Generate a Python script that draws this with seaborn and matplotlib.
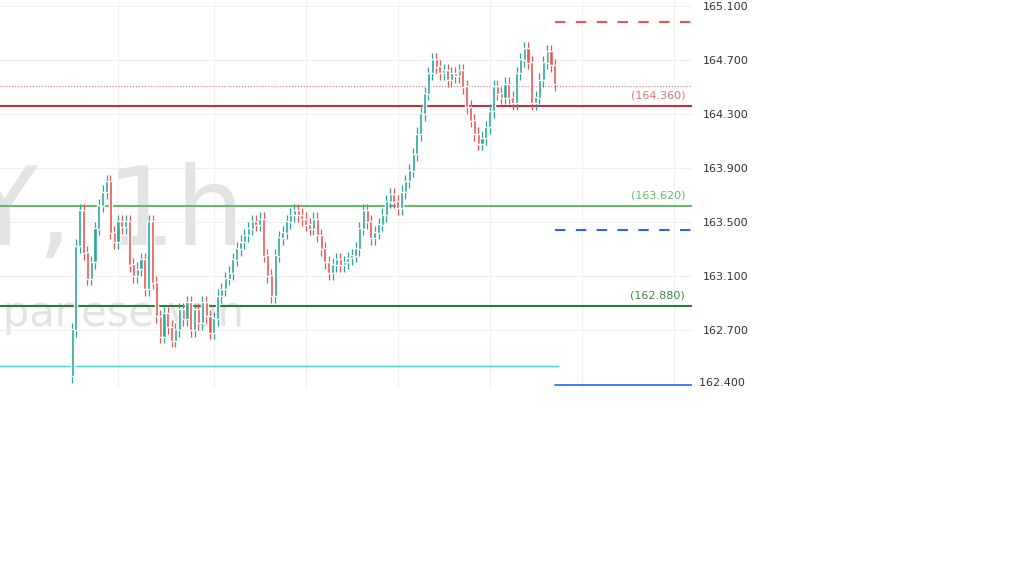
import matplotlib
matplotlib.use("Agg")
import matplotlib.pyplot as plt
import numpy as np
import seaborn as sns

# hourly closes (USD/JPY, 1h)
first_open = 162.36
closes = [
    162.70, 163.32, 163.58, 163.27, 163.08, 163.20, 163.45, 163.62, 163.72, 163.80, 163.42, 163.35, 163.50, 163.46,
    163.50, 163.18, 163.10, 163.15, 163.22, 163.00, 163.50, 163.05, 162.80, 162.65, 162.82, 162.72, 162.62, 162.70, 162.85, 162.78,
    162.90, 162.70, 162.85, 162.75, 162.90, 162.80, 162.68, 162.78, 162.95,
    163.00, 163.08, 163.12, 163.22, 163.30, 163.35, 163.40, 163.45, 163.50, 163.48, 163.52,
    163.25, 163.10, 162.95, 163.25, 163.38, 163.42, 163.50, 163.55, 163.58,
    163.55, 163.52, 163.48, 163.45, 163.52, 163.40, 163.30,
    163.20, 163.12, 163.18, 163.22, 163.18, 163.20, 163.23, 163.25, 163.30,
    163.45, 163.58, 163.50, 163.38,
    163.42, 163.48, 163.55, 163.65, 163.70, 163.65, 163.60, 163.72,
    163.80, 163.88, 164.00, 164.15, 164.30, 164.45, 164.60,
    164.70, 164.65, 164.60, 164.62, 164.55, 164.60, 164.58, 164.62, 164.50,
    164.35, 164.25, 164.15, 164.08, 164.12, 164.20, 164.32,
    164.50, 164.45, 164.42, 164.52, 164.42, 164.38, 164.60,
    164.70, 164.78, 164.68, 164.38, 164.42, 164.55, 164.68, 164.76, 164.66, 164.52,
]
wick_extra = 0.05

levels = [164.36, 163.62, 162.88]
level_colors = ["#c62f38", "#66bb6a", "#2e7d32"]
level_labels = ["(164.360)", "(163.620)", "(162.880)"]
label_colors = ["#e57373", "#66bb6a", "#388e3c"]

target_up = 164.98
target_mid = 163.44
stop_low = 162.29
support_cyan = 162.43
last_price = 164.51

yticks = [165.1, 164.7, 164.3, 163.9, 163.5, 163.1, 162.7]

sns.set_theme(style="white")
plt.rcParams['font.family'] = ['DejaVu Sans']

fig = plt.figure(figsize=(10.24, 5.76), dpi=100)
ax = fig.add_axes([0, 188 / 576, 692 / 1024, 388 / 576])

n = len(closes)
opens = np.array([first_open] + closes[:-1])
cl = np.array(closes)
x = np.arange(n)
up = cl >= opens
hi = np.maximum(opens, cl) + wick_extra
lo = np.minimum(opens, cl) - wick_extra
col = np.where(up, "#26a69a", "#ef5350")

ax.set_xlim(-18.8, 161.8)
ax.set_ylim(162.27, 165.144)

for gx in [12, 37, 61, 85, 109, 133, 157]:
    ax.axvline(gx, color="#f0f0f0", lw=0.8, zorder=0)
for gy in yticks:
    ax.axhline(gy, color="#f0f0f0", lw=0.8, zorder=0)

ax.text(45, 163.55, "USDJPY, 1h", fontsize=78, color="#e3e3e3", ha="right",
        va="center", zorder=0, clip_on=True)
ax.text(45, 162.82, "Japanese yen", fontsize=30, color="#e3e3e3", ha="right",
        va="center", zorder=0, clip_on=True)

ax.vlines(x, lo, hi, colors=col, lw=0.9, zorder=3)
ax.bar(x, np.abs(cl - opens) + 0.005, bottom=np.minimum(opens, cl), width=0.8,
       color=col, zorder=4)

for lv, c, lab, lc in zip(levels, level_colors, level_labels, label_colors):
    ax.axhline(lv, color=c, lw=1.5, zorder=2)
    ax.text(0.99, lv + 0.04, lab, transform=ax.get_yaxis_transform(), ha="right",
            va="bottom", fontsize=8, color=lc)

split = 555 / 692
ax.axhline(last_price, color="#e57373", lw=0.8, ls=":", zorder=1)
ax.axhline(support_cyan, xmax=558 / 692, color="#4dd0e1", lw=1, zorder=2)
ax.axhline(stop_low, xmin=split, color="#2962ff", lw=1.2, zorder=2)
ax.axhline(target_up, xmin=split, color="#ef5350", lw=1.5, ls=(0, (5, 5)), zorder=2)
ax.axhline(target_mid, xmin=split, color="#2962ff", lw=1.5, ls=(0, (5, 5)), zorder=2)

ax.set_xticks([])
ax.yaxis.tick_right()
ax.set_yticks(yticks)
ax.set_yticklabels([f"{v:.3f}" for v in yticks], fontsize=8, color="#333333")
ax.tick_params(axis="y", length=0, pad=8)
# bottom price label sits clamped near the axis edge
ax.text(1.0, 162.31, "  162.400", transform=ax.get_yaxis_transform(), ha="left",
        va="center", fontsize=8, color="#333333", clip_on=False)
for s in ax.spines.values():
    s.set_visible(False)

fig.savefig("out.png", dpi=100)
